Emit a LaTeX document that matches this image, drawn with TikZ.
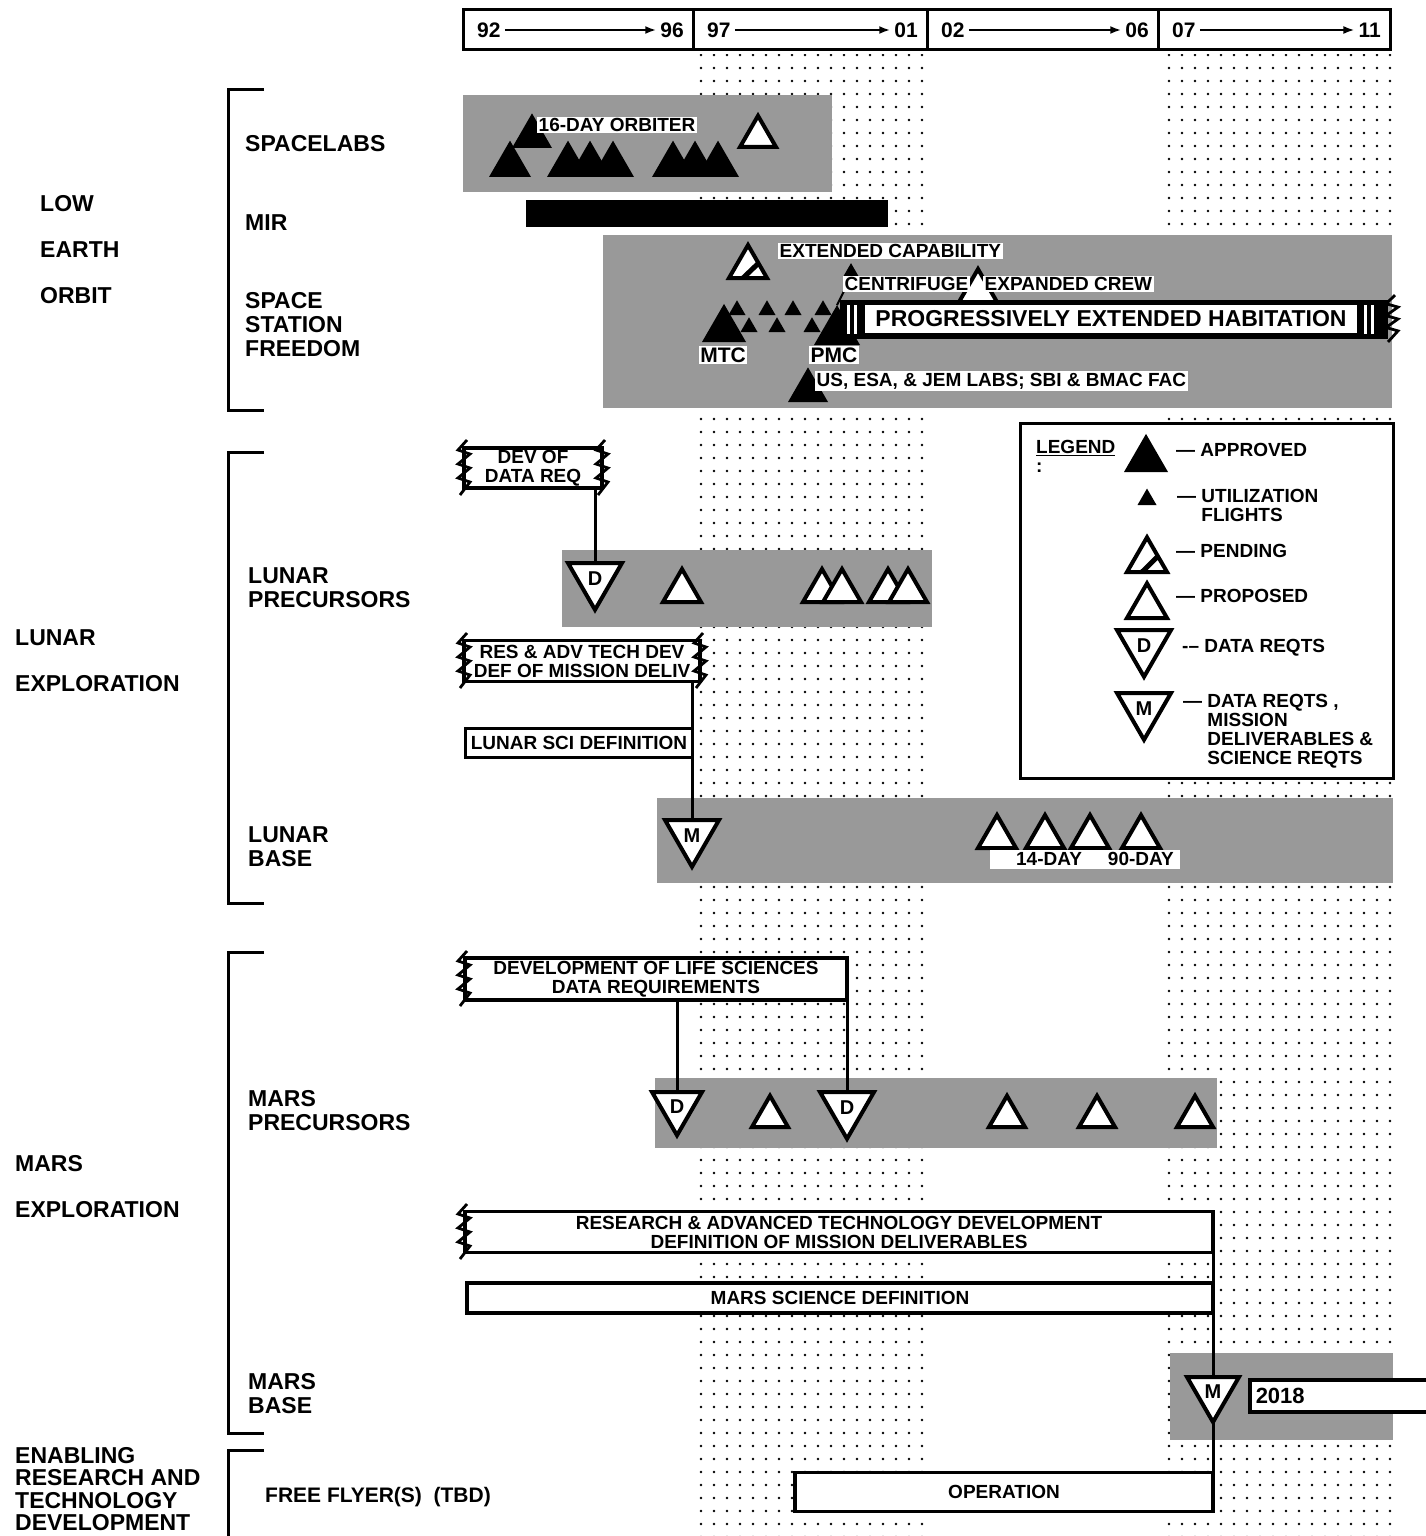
\documentclass[tikz,border=0pt]{standalone}
\usepackage{fontspec}
\setmainfont{Liberation Sans}
\usetikzlibrary{shapes.geometric, arrows.meta, positioning, calc, patterns.meta}

\newcommand{\labfont}{\fontsize{23}{24}\selectfont\bfseries}
\newcommand{\boxfont}{\fontsize{19}{19}\selectfont\bfseries}

\begin{document}
\begin{tikzpicture}[x=1pt, y=-1pt, line join=miter,
  tri/.style={regular polygon, regular polygon sides=3, inner sep=0pt, outer sep=0pt},
  approved/.style={tri, fill=black, minimum size={1.1547*#1}},
  proposed/.style={tri, draw, fill=white, line width=4pt, minimum size={1.1547*#1}},
  pending/.style={proposed=#1, path picture={\draw[line width=5pt] ([xshift=-5pt]path picture bounding box.south) -- ([yshift=-10pt]path picture bounding box.north east);}},
  dreq/.style={proposed=#1, shape border rotate=180, font=\fontsize{20}{20}\selectfont\bfseries},
  band/.style={fill=black!40},
  dotcol/.style={pattern={Dots[distance=13pt, radius=1.5pt]}},
  bar/.style={draw, line width=3.5pt, fill=white, align=center, font=\boxfont, inner sep=0pt},
  note/.style={fill=white, inner sep=1.5pt, font=\boxfont, anchor=west},
  sub/.style={anchor=north west, align=left, inner sep=0pt, font=\labfont},
  grp/.style={sub, font=\fontsize{23}{46}\selectfont\bfseries},
  hdr/.style={font=\fontsize{21}{21}\selectfont\bfseries, inner sep=4pt},
  lgd/.style={anchor=north west, inner sep=0pt, font=\boxfont, align=left},
  conn/.style={line width=3pt},
  zag/.pic={\draw[line width=2.8pt] (3,-28) -- (-6,-18) -- (6,-14) -- (-6,-4) -- (6,0) -- (-6,10) -- (6,14) -- (-4,27);}
]
\useasboundingbox (0,0) rectangle (1426,1536);

% =============== BACKGROUND ===============
\fill[dotcol] (697,55) rectangle (925,1536);
\fill[dotcol] (1160,55) rectangle (1392,1536);
\fill[band] (463,95) rectangle (832,192);
\fill[band] (603,235) rectangle (1392,408);
\fill[band] (562,550) rectangle (932,627);
\fill[band] (657,798) rectangle (1393,883);
\fill[band] (655,1078) rectangle (1217,1148);
\fill[band] (1170,1353) rectangle (1393,1440);

% =============== TIME SCALE ===============
\foreach \xa/\xb/\ya/\yb [count=\i] in {463/693/92/96, 693/927/97/01, 927/1158/02/06, 1158/1390/07/11}{
  \draw[line width=3pt] (\xa,10) rectangle (\xb,50);
  \node[hdr, anchor=west] (ya\i) at (\xa+10,30) {\ya};
  \node[hdr, anchor=east] (yb\i) at (\xb-5,30) {\yb};
  \draw[-{Latex[length=11pt,width=8pt]}, line width=2pt] (ya\i) -- (yb\i);
}

% =============== ROW LABELS ===============
\foreach \ya/\yb in {90/410, 452/903, 952/1433, 1450/1540}
  \draw[line width=3pt] (264,\ya) -- (228,\ya) -- (228,\yb) -- (264,\yb);
\node[grp] (leo) at (40,195) {LOW\\EARTH\\ORBIT};
\node[grp] (lex) at (15,629) {LUNAR\\EXPLORATION};
\node[grp] (mex) at (15,1155) {MARS\\EXPLORATION};
\node[sub, font=\fontsize{23}{22.5}\selectfont\bfseries] (ert) at (15,1447) {ENABLING\\RESEARCH AND\\TECHNOLOGY\\DEVELOPMENT};
\node[sub] (slab) at (245,135) {SPACELABS};
\node[sub] (mir) at (245,214) {MIR};
\node[sub] (ssf) at (245,292) {SPACE\\STATION\\FREEDOM};
\node[sub] (lpr) at (248,567) {LUNAR\\PRECURSORS};
\node[sub] (lba) at (248,826) {LUNAR\\BASE};
\node[sub] (mpr) at (248,1090) {MARS\\PRECURSORS};
\node[sub] (mba) at (248,1373) {MARS\\BASE};
\node[sub, font=\fontsize{21}{22}\selectfont\bfseries] (ffl) at (265,1487) {FREE FLYER(S)\ \ (TBD)};

% =============== LOW EARTH ORBIT ===============
\node[approved=40, anchor=south] (sl0) at (532,148) {};
\foreach \x [count=\i] in {510,568,590,613,673,695,718}
  \node[approved=42, anchor=south] (sl\i) at (\x,177) {};
\node[proposed=36, anchor=south] (sl8) at (758,147) {};
\node[note] (orb) at (537,125) {16-DAY ORBITER};
\fill (526,200) rectangle (888,227);

\node[pending=38, anchor=south] (ext) at (748,278) {};
\node[note] (extl) at (778,251) {EXTENDED CAPABILITY};
\node[approved=44, anchor=south] (mtc) at (724,342) {};
\foreach \x [count=\i] in {737,767,793,823}
  \node[approved=17, anchor=south] (ua\i) at (\x,315) {};
\foreach \x [count=\i] in {749,777,812}
  \node[approved=17, anchor=south] (ub\i) at (\x,332) {};
\node[approved=46, anchor=south] (pmc) at (837,345) {};
\node[approved=16, anchor=south] (cfg) at (851,277) {};
\draw[line width=2pt] (cfg.south) -- (pmc.north);
\node[proposed=38, anchor=south] (crew) at (978,302) {};
\fill (840,300) rectangle (1388,339);
\foreach \x in {847,854,1364,1371}
  \fill[white] (\x,305) rectangle ++(3,29);
\node[fill=white, font=\labfont, minimum width=492, minimum height=28, inner sep=0pt] (hab) at (1111,319) {PROGRESSIVELY EXTENDED HABITATION};
\pic[yscale=0.85] at (1392,319) {zag};
\node[note] (cfgl) at (843,284) {CENTRIFUGE};
\node[note] (crewl) at (983,284) {EXPANDED CREW};
\node[note, anchor=center, font=\fontsize{21}{21}\selectfont\bfseries] (mtcl) at (723,355) {MTC};
\node[note, anchor=center, font=\fontsize{21}{21}\selectfont\bfseries] (pmcl) at (834,355) {PMC};
\node[approved=40, anchor=south] (labs) at (808,402) {};
\node[note] (labsl) at (815,381) {US, ESA, \& JEM LABS; SBI \& BMAC FAC};

% =============== LUNAR ===============
\node[bar, minimum width=138, minimum height=40] (dd) at (533,468) {DEV OF\\DATA REQ};
\pic at (464,468) {zag};
\pic at (602,468) {zag};
\node[dreq=54, anchor=north] (ld) at (595,563) {D};
\draw[conn] (ld.north |- dd.south) -- (ld.north);
\foreach \x [count=\i] in {682,822,842,888,908}
  \node[proposed=38, anchor=south] (lp\i) at (\x,602) {};

\node[bar, minimum width=236, minimum height=41] (rd) at (582,661) {RES \& ADV TECH DEV\\DEF OF MISSION DELIV};
\pic at (464,661) {zag};
\pic at (700,661) {zag};
\node[bar, minimum width=227, minimum height=29] (lsd) at (579,743) {LUNAR SCI DEFINITION};
\node[dreq=54, anchor=north] (lm) at (692,820) {M};
\draw[conn] (lm.north |- rd.south) -- (lm.north);
\foreach \x [count=\i] in {997,1045,1090,1141}
  \node[proposed=38, anchor=south] (lb\i) at (\x,848) {};
\node[note, anchor=center, minimum width=190, minimum height=19, inner sep=0pt] (lbd) at (1085,859) {\hspace*{20pt}14-DAY\hspace{26pt}90-DAY};

% =============== LEGEND ===============
\node[draw, line width=3pt, fill=white, minimum width=373, minimum height=355, inner sep=0pt] (lg) at (1207,601) {};
\node[lgd] (lgt) at (1036,440) {\underline{LEGEND}\\:};
\node[approved=44, anchor=south] (lg1) at (1146,472) {};
\node[approved=19, anchor=south] (lg2) at (1147,505) {};
\node[pending=40, anchor=south] (lg3) at (1147,572) {};
\node[proposed=40, anchor=south] (lg4) at (1147,618) {};
\node[dreq=54, anchor=north] (lg5) at (1144,630) {D};
\node[dreq=54, anchor=north] (lg6) at (1144,693) {M};
\node[lgd] (lt1) at (1176,443) {\textemdash\ APPROVED};
\node[lgd] (lt2) at (1177,489) {\textemdash\ UTILIZATION\\\hphantom{\textemdash\ }FLIGHTS};
\node[lgd] (lt3) at (1176,544) {\textemdash\ PENDING};
\node[lgd] (lt4) at (1176,589) {\textemdash\ PROPOSED};
\node[lgd] (lt5) at (1182,639) {-\textendash\ DATA REQTS};
\node[lgd] (lt6) at (1183,694) {\textemdash\ DATA REQTS ,\\\hphantom{\textemdash\ }MISSION\\\hphantom{\textemdash\ }DELIVERABLES \&\\\hphantom{\textemdash\ }SCIENCE REQTS};

% =============== MARS ===============
\node[bar, minimum width=382, minimum height=42] (lsr) at (656,979) {DEVELOPMENT OF LIFE SCIENCES\\DATA REQUIREMENTS};
\pic at (464,979) {zag};
\node[dreq=50, anchor=north] (md1) at (677,1092) {D};
\node[dreq=54, anchor=north] (md2) at (847,1092) {D};
\draw[conn] (md1.north |- lsr.south) -- (md1.north);
\draw[conn] (md2.north |- lsr.south) -- (md2.north);
\foreach \x [count=\i] in {770,1007,1097,1195}
  \node[proposed=36, anchor=south] (mp\i) at (\x,1127) {};

\node[bar, minimum width=748, minimum height=41] (rat) at (839,1232) {RESEARCH \& ADVANCED TECHNOLOGY DEVELOPMENT\\DEFINITION OF MISSION DELIVERABLES};
\pic at (464,1232) {zag};
\node[bar, minimum width=746, minimum height=30] (msd) at (840,1298) {MARS SCIENCE DEFINITION};
\node[dreq=52, anchor=north] (mm) at (1213,1377) {M};
\draw[conn] (mm.north |- rat.south) -- (mm.north);
\node[bar, anchor=west, minimum height=32, text width=178, inner xsep=6pt, align=left, font=\fontsize{22}{22}\selectfont\bfseries] (y18) at (1248,1396) {2018};

% =============== FREE FLYER ===============
\node[bar, minimum width=418, minimum height=39] (op) at (1004,1492) {OPERATION};
\draw[conn] (mm.south) -- (mm.south |- op.north);

\end{tikzpicture}
\end{document}
